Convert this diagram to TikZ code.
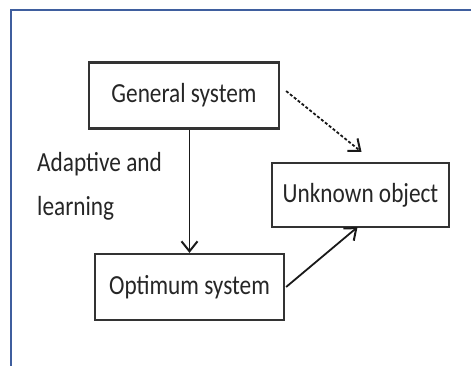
\documentclass[tikz,border=0pt]{standalone}
\usepackage{fontspec}
\setmainfont{Carlito}
\usetikzlibrary{arrows.meta,calc}
\definecolor{frameblue}{HTML}{3F5E9E}
\definecolor{boxline}{HTML}{333333}
\newcommand{\tall}[1]{\scalebox{0.97}[1.15]{#1}}
\begin{document}
\begin{tikzpicture}[x=1pt,y=-1pt,
  block/.style={draw=boxline,line width=2.2pt,inner sep=0pt,
    font=\fontsize{24}{26}\selectfont,text=black!85},
  link/.style={line width=1.8pt,draw=black!90,
    -{Straight Barb[length=10pt,width=16pt,line width=2pt]}},
  hint/.style={font=\fontsize{24}{44}\selectfont,text=black!85,align=left}]
  \useasboundingbox (0,0) rectangle (471,365);
  \fill[white] (0,0) rectangle (471,365);
  % outer frame, only left and top edges visible
  \draw[frameblue,line width=2.6pt] (11,370) -- (11,10) -- (480,10);
  % blocks
  \node[block,minimum width=190pt,minimum height=66pt] (gs) at (184,95.5)
    {\raisebox{-9pt}{\tall{General system}}};
  \node[block,minimum width=189pt,minimum height=66pt] (oo) at (189.5,287)
    {\tall{Optimum system}};
  \node[block,minimum width=177pt,minimum height=64pt] (uo) at (360.5,195)
    {\tall{Unknown object}};
  % side note
  \node[hint,anchor=north west,inner sep=0pt] (note) at (37,152)
    {\tall{Adaptive and}\\\tall{learning}};
  % connectors
  \draw[link] (oo.north |- gs.south) -- (oo.north);
  \draw[link,densely dashed] ([xshift=6pt,yshift=4.5pt]gs.east) -- ([xshift=1pt,yshift=10pt]uo.north);
  \draw[link] ([xshift=1pt]oo.east) -- ([xshift=-3pt,yshift=1pt]uo.south);
\end{tikzpicture}
\end{document}
